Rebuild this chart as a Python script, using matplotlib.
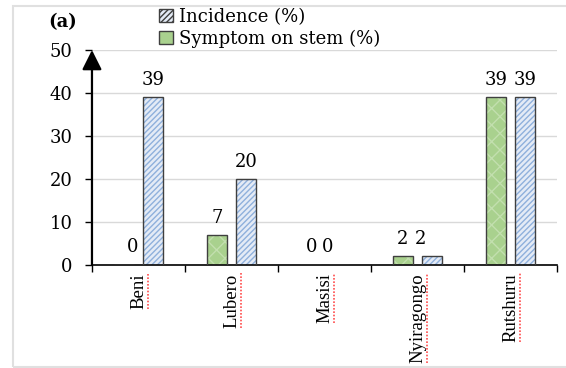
import matplotlib.pyplot as plt
from matplotlib.patches import Patch
from matplotlib.lines import Line2D
import numpy as np

# datos
territorios = ['Beni', 'Lubero', 'Masisi', 'Nyiragongo', 'Rutshuru']
sintoma_tallo = [0, 7, 0, 2, 39]
incidencia = [39, 20, 0, 2, 39]

plt.rcParams['font.family'] = ['DejaVu Serif']
plt.rcParams['hatch.linewidth'] = 1.0

fig = plt.figure(figsize=(5.66, 3.68), dpi=100)
ax = fig.add_axes([0.1625, 0.28, 0.822, 0.584])

x = np.arange(len(territorios))
ancho = 0.215
desp = 0.153

verde = '#a9d18e'
azul_fondo = '#e4ebf6'

# relleno con trama, luego el contorno
plt.rcParams['hatch.color'] = '#c2dfae'
ax.bar(x - desp, sintoma_tallo, ancho, color=verde, hatch='xx', linewidth=0, zorder=2)
plt.rcParams['hatch.color'] = '#8fb0dc'
ax.bar(x + desp, incidencia, ancho, color=azul_fondo, hatch='//////', linewidth=0, zorder=2)
ax.bar(x - desp, sintoma_tallo, ancho, fill=False, edgecolor='#3f3f3f', linewidth=1, zorder=3)
ax.bar(x + desp, incidencia, ancho, fill=False, edgecolor='#3f3f3f', linewidth=1, zorder=3)

# etiquetas de valores (algunas corridas a mano para que no se separen)
dx_verde = [6, 0, 1, -1, 0]
dx_azul = [0, 0, -8, -8.5, 0]
for i in range(len(territorios)):
    dy = 6.5 if sintoma_tallo[i] == 0 else 6
    ax.annotate(str(sintoma_tallo[i]), (x[i] - desp, sintoma_tallo[i]), xytext=(dx_verde[i], dy),
                textcoords='offset points', ha='center', va='bottom', fontsize=13)
    dy = 6.5 if incidencia[i] == 0 else 6
    ax.annotate(str(incidencia[i]), (x[i] + desp, incidencia[i]), xytext=(dx_azul[i], dy),
                textcoords='offset points', ha='center', va='bottom', fontsize=13)

ax.set_xlim(-0.5, len(territorios) - 0.5)
ax.set_ylim(0, 50)
ax.set_yticks([0, 10, 20, 30, 40, 50])
ax.yaxis.grid(True, color='#d9d9d9', linewidth=1)
ax.set_axisbelow(True)
ax.tick_params(axis='y', labelsize=13, length=5, width=1, pad=9)

# ticks entre categorias, nombres en el centro
ax.set_xticks(np.arange(-0.5, len(territorios), 1.0))
ax.set_xticklabels([])
ax.set_xticks(x, minor=True)
ax.set_xticklabels(territorios, minor=True, rotation=90, fontsize=13.5, va='top',
                   family='Liberation Serif')
ax.tick_params(axis='x', which='major', length=5, width=1, direction='out')
ax.tick_params(axis='x', which='minor', length=0, pad=6)

for s in ['top', 'right', 'left']:
    ax.spines[s].set_visible(False)
ax.spines['bottom'].set_linewidth(1.2)

# eje y con flecha
ax.annotate('', xy=(0, 1.0), xytext=(0, 0), xycoords='axes fraction',
            arrowprops=dict(arrowstyle='-|>,head_length=0.6,head_width=0.3',
                            mutation_scale=20, color='black', lw=1.6, shrinkA=0, shrinkB=0),
            annotation_clip=False)

fig.text(0.085, 0.94, '(a)', fontsize=13, fontweight='bold', ha='left', va='center')

handles = [Patch(facecolor=azul_fondo, edgecolor='#3f3f3f', hatch='//////', label='Incidence (%)'),
           Patch(facecolor=verde, edgecolor='#3f3f3f', label='Symptom on stem (%)')]
fig.legend(handles=handles, loc='upper left', bbox_to_anchor=(0.269, 0.998), frameon=False,
           fontsize=13, handlelength=0.75, handleheight=0.75, handletextpad=0.35,
           labelspacing=0.2, borderaxespad=0)

# marco de la figura
fig.add_artist(plt.Rectangle((13 / 566, 1 / 368), 1.0, 361 / 368, transform=fig.transFigure,
                             fill=False, edgecolor='#e0e0e0', linewidth=1.5))

# subrayado rojo bajo los nombres
fig.canvas.draw()
r = fig.canvas.get_renderer()
for lab in ax.get_xticklabels(minor=True):
    bb = lab.get_window_extent(r)
    xs = bb.x1 + 0.5
    fig.add_artist(Line2D([xs / 566, xs / 566], [bb.y0 / 368, bb.y1 / 368],
                          transform=fig.transFigure, color='#ff4d4d', lw=1.2,
                          linestyle=(0, (1, 1))))

plt.savefig('out.png', dpi=100)
